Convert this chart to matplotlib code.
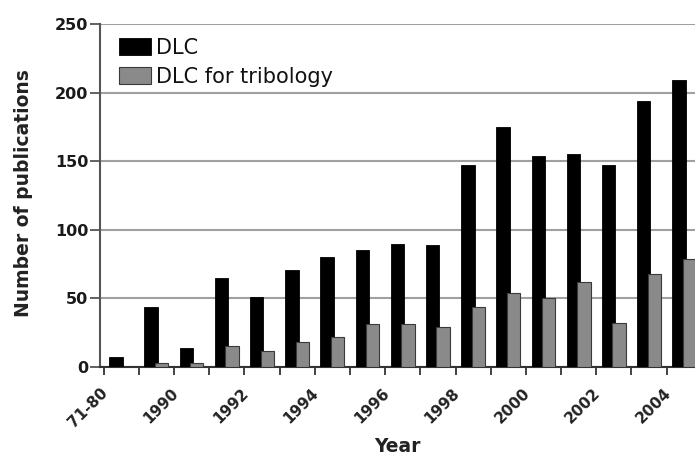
import matplotlib
matplotlib.use("Agg")
import matplotlib.pyplot as plt
import numpy as np

categories = ["71-80", "1989", "1990", "1991", "1992", "1993", "1994", "1995",
              "1996", "1997", "1998", "1999", "2000", "2001", "2002", "2003", "2004"]
dlc = [7, 44, 14, 65, 51, 71, 80, 85, 90, 89, 147, 175, 154, 155, 147, 194, 209]
dlc_trib = [0, 3, 3, 15, 12, 18, 22, 31, 31, 29, 44, 54, 50, 62, 32, 68, 79]
yticks = [0, 50, 100, 150, 200, 250]
label_every = 2

plt.rcParams['font.family'] = ['DejaVu Sans']

fig = plt.figure(figsize=(6.95, 4.57), dpi=100)
ax = fig.add_axes([0.1439, 0.1969, 0.866, 0.7505])

x = np.arange(len(categories))
w = 0.38
ax.bar(x - 0.15, dlc, width=w, color="black", edgecolor="black", linewidth=0.6,
       label="DLC", zorder=3)
ax.bar(x + 0.15, dlc_trib, width=w, color="#8a8a8a", edgecolor="#3a3a3a", linewidth=0.8,
       label="DLC for tribology", zorder=4)

ax.set_xlim(-0.5, len(categories) - 0.5)
ax.set_ylim(0, 250)
ax.set_yticks(yticks)
ax.set_yticklabels([str(v) for v in yticks], fontsize=11.5, fontweight="bold", color="#1a1a1a")
ax.yaxis.grid(True, color="#a0a0a0", linewidth=1.5, zorder=0)
ax.set_axisbelow(True)

# boundary tick marks
ax.set_xticks(np.arange(len(categories)) - 0.5)
ax.set_xticklabels([])
ax.tick_params(axis="x", which="major", length=6, width=1.3, color="#333333", direction="out")
ax.tick_params(axis="y", which="major", length=7, width=1.3, color="#555555", pad=1.5)

# labels at every other category
lab_idx = x[::label_every]
ax.set_xticks(lab_idx - 0.6, minor=True)
ax.set_xticklabels([categories[i] for i in lab_idx], minor=True, rotation=45,
                   ha="right", va="top", rotation_mode="anchor",
                   fontsize=11, fontweight="bold", color="#222222")
ax.tick_params(axis="x", which="minor", length=0, pad=13)

for side in ["top", "right"]:
    ax.spines[side].set_visible(False)
ax.spines["left"].set_color("#555555")
ax.spines["left"].set_linewidth(1.5)
ax.spines["bottom"].set_color("#333333")
ax.spines["bottom"].set_linewidth(1.5)

ax.set_ylabel("Number of publications", fontsize=13.5, fontweight="bold", color="#222222")
ax.yaxis.set_label_coords(-0.111, 0.506)
ax.set_xlabel("Year", fontsize=13.5, fontweight="bold", color="#222222")
ax.xaxis.set_label_coords(0.495, -0.205)

leg = ax.legend(loc="upper left", bbox_to_anchor=(0.017, 0.985), frameon=False,
                fontsize=15, handlelength=1.55, handleheight=0.85, handletextpad=0.25,
                labelspacing=0.45, borderaxespad=0.0)
for t in leg.get_texts():
    t.set_color("#111111")

fig.savefig("out.png", dpi=100)
